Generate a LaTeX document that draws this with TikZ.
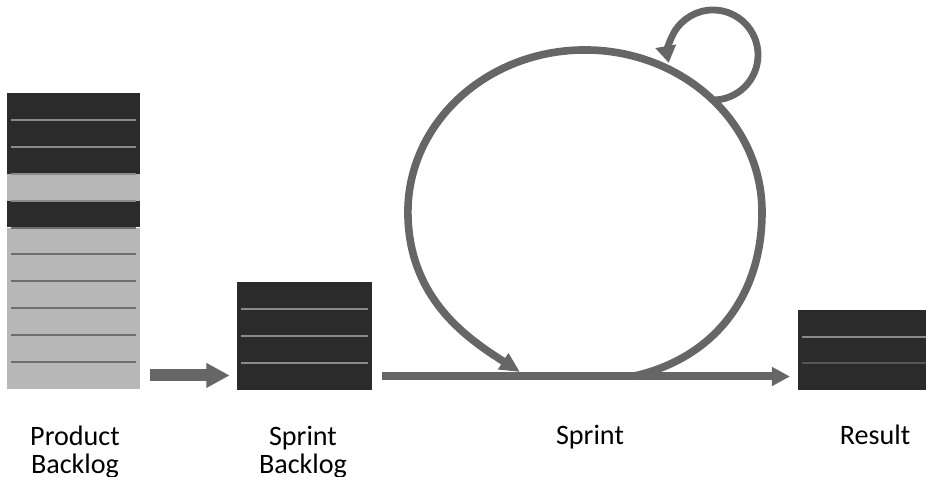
\documentclass[tikz,border=0pt]{standalone}
\usepackage{fontspec}
\setmainfont{Carlito}
\usetikzlibrary{arrows.meta}

\definecolor{dark}{HTML}{2B2B2B}
\definecolor{pale}{HTML}{B7B7B7}
\definecolor{rule}{HTML}{8A8A8A}
\definecolor{flow}{HTML}{666666}

\tikzset{
  cell/.style={minimum height=0.67cm, inner sep=0, outer sep=0},
  sepline/.style={rule, line width=0.05cm},
  fatarrow/.style={flow, line width=0.3cm, -{Triangle[length=0.58cm, width=0.58cm]}},
  flowline/.style={flow, line width=0.2cm, -{Triangle[length=0.45cm, width=0.45cm]}},
  loopline/.style={flow, line width=0.19cm, -{Triangle[length=0.5cm, width=0.45cm]}},
  spinline/.style={flow, line width=0.17cm, -{Triangle[length=0.42cm, width=0.5cm]}},
  lbl/.style={font=\fontsize{20}{19.5}\selectfont, align=center, anchor=base, inner sep=0},
}

\begin{document}
\begin{tikzpicture}[x=0.025cm, y=-0.025cm]
  \useasboundingbox (0,0) rectangle (926,477);
  \def\rh{26.9}  % row height

  % product backlog, 11 items
  \foreach \c [count=\i from 0] in {dark,dark,dark,pale,dark,pale,pale,pale,pale,pale,pale} {
    \node[cell, fill=\c, minimum width=3.33cm] (pb\i) at (73.5, {93+\rh*(\i+0.5)}) {};
  }
  \foreach \i in {1,...,4}
    \draw[sepline] ([xshift=0.1cm]pb\i.north west) -- ([xshift=-0.1cm]pb\i.north east);
  \foreach \i in {5,...,10}
    \draw[sepline, rule!80!black] ([xshift=0.1cm]pb\i.north west) -- ([xshift=-0.1cm]pb\i.north east);

  % sprint backlog, 4 items
  \foreach \i in {0,...,3}
    \node[cell, fill=dark, minimum width=3.38cm] (sb\i) at (304.5, {282+27*(\i+0.5)}) {};
  \foreach \i in {1,...,3}
    \draw[sepline] ([xshift=0.1cm]sb\i.north west) -- ([xshift=-0.1cm]sb\i.north east);

  % result, 3 items
  \foreach \i in {0,...,2}
    \node[cell, fill=dark, minimum width=3.2cm] (res\i) at (862, {310+26.7*(\i+0.5)}) {};
  \draw[sepline] ([xshift=0.1cm]res1.north west) -- (res1.north east);
  \draw[sepline, rule!45!dark] ([xshift=0.1cm]res2.north west) -- (res2.north east);

  % flow between the stacks
  \draw[fatarrow] ([xshift=0.25cm]pb10.east) -- ([xshift=-0.18cm]sb3.west |- pb10.east);
  \draw[flowline] ([xshift=0.25cm]sb3.east) -- ([xshift=-0.2cm]res2.west |- sb3.east);

  % sprint loop and daily loop
  \coordinate (out) at (632,376.5);
  \coordinate (in) at (520,372);
  \draw[loopline] (out) .. controls (710,360) and (762,300) .. (762,212)
    arc[start angle=0, end angle=180, x radius=4.425cm, y radius=4.05cm]
    .. controls (408,300) and (470,340) .. (in);
  \coordinate (spin) at (713,100);
  \draw[spinline] (spin) arc[start angle=-90, end angle=190, radius=1.125cm];

  % labels (base = last line)
  \node[lbl] (pbtxt) at (75,473) {Product\\Backlog};
  \node[lbl] (sbtxt) at (303,473) {Sprint\\Backlog};
  \node[lbl] (sptxt) at (590,445) {Sprint};
  \node[lbl] (restxt) at (875,445) {Result};
\end{tikzpicture}
\end{document}
